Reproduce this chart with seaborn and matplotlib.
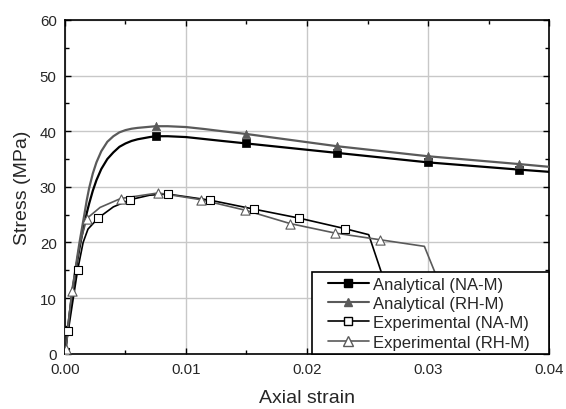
import numpy as np
import pandas as pd
import seaborn as sns
import matplotlib.pyplot as plt
from matplotlib.lines import Line2D
from matplotlib.legend_handler import HandlerLine2D
from matplotlib.ticker import MultipleLocator

sns.set_style("ticks")
plt.rcParams['font.family'] = ['Liberation Sans', 'DejaVu Sans']

## Analytical curves
ana_na_x = [0, 0.0002, 0.0004, 0.0006, 0.0008, 0.0010, 0.0012, 0.0014, 0.0016, 0.0018, 0.0020,
            0.0023, 0.0026, 0.0030, 0.0035, 0.0040, 0.0045, 0.0050, 0.0055, 0.0060, 0.0065,
            0.0070, 0.0075, 0.0085, 0.0100, 0.0115, 0.0130, 0.0150, 0.0225, 0.0300, 0.0375, 0.0400]
ana_na_y = [0, 3.8, 7.5, 10.8, 13.8, 16.5, 19.0, 21.3, 23.4, 25.3, 27.0,
            29.3, 31.2, 33.2, 35.0, 36.2, 37.2, 37.8, 38.25, 38.55, 38.75,
            38.95, 39.1, 39.1, 38.95, 38.6, 38.25, 37.8, 36.1, 34.4, 33.1, 32.7]
ana_rh_x = [0, 0.0002, 0.0004, 0.0006, 0.0008, 0.0010, 0.0012, 0.0014, 0.0016, 0.0018, 0.0020,
            0.0023, 0.0026, 0.0030, 0.0035, 0.0040, 0.0045, 0.0050, 0.0055, 0.0060, 0.0065,
            0.0070, 0.0075, 0.0085, 0.0100, 0.0115, 0.0130, 0.0150, 0.0225, 0.0300, 0.0375, 0.0400]
ana_rh_y = [0, 3.8, 7.5, 10.9, 14.2, 17.2, 20.0, 22.5, 25.0, 27.6, 29.8,
            32.4, 34.4, 36.4, 38.1, 39.1, 39.8, 40.2, 40.45, 40.6, 40.7,
            40.8, 40.9, 40.9, 40.75, 40.4, 40.0, 39.5, 37.3, 35.5, 34.1, 33.6]
ana_mark_x = [0.0075, 0.015, 0.0225, 0.030, 0.0375]
ana_na_mark = [39.1, 37.8, 36.1, 34.4, 33.1]
ana_rh_mark = [40.9, 39.5, 37.3, 35.5, 34.1]

## Experimental curves
exp_na_x = [0.0, 0.00027, 0.00105, 0.0015, 0.0019, 0.00275, 0.0040, 0.0054, 0.0070, 0.0085,
            0.0120, 0.0156, 0.0193, 0.0231, 0.0251, 0.0284]
exp_na_y = [0.3, 4.1, 15.1, 20.0, 22.4, 24.4, 26.4, 27.7, 28.5, 28.7,
            27.6, 26.0, 24.4, 22.5, 21.4, 0.0]
exp_na_mx = [0.0, 0.00027, 0.00105, 0.00275, 0.0054, 0.0085, 0.0120, 0.0156, 0.0193, 0.0231]
exp_na_my = [0.3, 4.1, 15.1, 24.4, 27.7, 28.7, 27.6, 26.0, 24.4, 22.5]

exp_rh_x = [0.0001, 0.00055, 0.0012, 0.0018, 0.0029, 0.0046, 0.0077, 0.0112, 0.0149,
            0.0186, 0.0223, 0.0260, 0.0297, 0.0333]
exp_rh_y = [0.8, 11.2, 19.5, 24.3, 26.3, 27.9, 28.9, 27.7, 25.8,
            23.4, 21.7, 20.5, 19.3, 0.0]
exp_rh_mx = [0.0001, 0.00055, 0.0018, 0.0046, 0.0077, 0.0112, 0.0149, 0.0186, 0.0223, 0.0260]
exp_rh_my = [0.8, 11.2, 24.3, 27.9, 28.9, 27.7, 25.8, 23.4, 21.7, 20.5]

labels = ['Analytical (NA-M)', 'Analytical (RH-M)', 'Experimental (NA-M)', 'Experimental (RH-M)']
black = '#000000'
grey = '#5a5a5a'

fig = plt.figure(figsize=(5.66, 4.10), dpi=100)
ax = fig.add_axes([0.1148, 0.1349, 0.8552, 0.8139])

## lines
sns.lineplot(x=ana_na_x, y=ana_na_y, ax=ax, color=black, lw=1.6, sort=False, zorder=3)
sns.lineplot(x=ana_rh_x, y=ana_rh_y, ax=ax, color=grey, lw=1.6, sort=False, zorder=3)
sns.lineplot(x=exp_na_x, y=exp_na_y, ax=ax, color=black, lw=1.2, sort=False, zorder=3)
sns.lineplot(x=exp_rh_x, y=exp_rh_y, ax=ax, color=grey, lw=1.2, sort=False, zorder=3)

## markers
sns.scatterplot(x=ana_mark_x, y=ana_na_mark, ax=ax, marker='s', s=28, color=black,
                edgecolor=black, linewidth=0.5, zorder=4)
sns.scatterplot(x=ana_mark_x, y=ana_rh_mark, ax=ax, marker='^', s=36, color=grey,
                edgecolor=grey, linewidth=0.5, zorder=4)
sns.scatterplot(x=exp_na_mx, y=exp_na_my, ax=ax, marker='s', s=34, color='white',
                edgecolor=black, linewidth=0.8, zorder=4)
sns.scatterplot(x=exp_rh_mx, y=exp_rh_my, ax=ax, marker='^', s=44, color='white',
                edgecolor=grey, linewidth=0.8, zorder=4)

ax.set_xlim(0, 0.04)
ax.set_ylim(0, 60)
ax.xaxis.set_major_locator(MultipleLocator(0.01))
ax.xaxis.set_minor_locator(MultipleLocator(0.005))
ax.yaxis.set_major_locator(MultipleLocator(10))
ax.yaxis.set_minor_locator(MultipleLocator(5))
ax.set_xticklabels([f"{v:.2f}" for v in ax.get_xticks()])
ax.grid(True, which='major', color='#c8c8c8', lw=1.0, zorder=0)
ax.set_axisbelow(True)
for sp in ax.spines.values():
    sp.set_visible(True)
    sp.set_color('black')
    sp.set_linewidth(1.2)
ax.tick_params(which='both', direction='in', top=True, right=True, color='black', width=1.0)
ax.tick_params(which='major', length=4, labelsize=10.8, pad=6)
ax.tick_params(which='minor', length=3)
ax.set_xlabel('Axial strain', fontsize=14, labelpad=9)
ax.set_ylabel('Stress (MPa)', fontsize=14, labelpad=6)

handles = [
    Line2D([], [], color=black, lw=1.5, marker='s', ms=5.3, mfc=black, mec=black),
    Line2D([], [], color=grey, lw=1.5, marker='^', ms=6, mfc=grey, mec=grey),
    Line2D([], [], color=black, lw=1.2, marker='s', ms=5.8, mfc='white', mec=black),
    Line2D([], [], color=grey, lw=1.2, marker='^', ms=6.6, mfc='white', mec=grey),
]
hmap = {h: HandlerLine2D(xpad=0.72) for h in handles}
leg = ax.legend(handles, labels, handler_map=hmap, loc='lower left',
                bbox_to_anchor=(0.5097, 0.0, 0.4903, 0.25), mode='expand',
                borderaxespad=0, fontsize=12, frameon=True, fancybox=False, framealpha=1,
                edgecolor='black', handlelength=3.16, handletextpad=0.25,
                labelspacing=0.26, borderpad=0.25)
leg.get_frame().set_linewidth(1.2)
leg.set_zorder(10)

fig.savefig('out.png', dpi=100)
